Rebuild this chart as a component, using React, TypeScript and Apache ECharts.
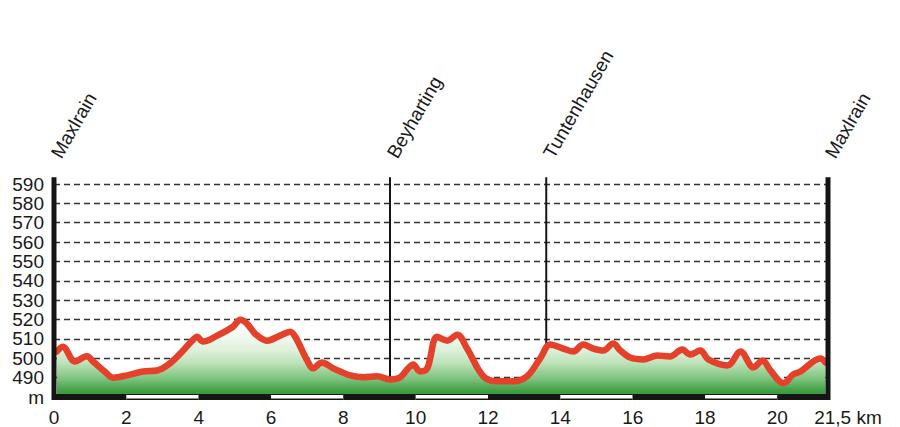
import React, { useEffect, useRef } from 'react';
import * as echarts from 'echarts';

// Profile: distance (km) and elevation (m)
const distanceKm = [
  0.08, 0.24, 0.58, 0.91, 1.09, 1.41, 1.63, 2.02, 2.46, 2.85, 3.13, 3.49, 3.82, 3.96, 4.12, 4.51,
  4.95, 5.15, 5.34, 5.56, 5.89, 6.25, 6.53, 6.67, 7.0, 7.16, 7.41, 7.72, 8.19, 8.55, 8.93, 9.29,
  9.57, 9.79, 9.93, 10.12, 10.32, 10.59, 10.87, 11.15, 11.42, 11.87, 12.25, 12.7, 13.08, 13.44,
  13.72, 14.08, 14.36, 14.63, 14.91, 15.19, 15.46, 15.66, 15.93, 16.29, 16.68, 17.03, 17.37,
  17.59, 17.87, 18.09, 18.62, 18.98, 19.34, 19.59, 19.81, 20.17, 20.44, 20.64, 21.19, 21.33,
];
const elevationM = [
  503.5, 506, 498.3, 501, 498.2, 493, 490, 491.2, 493.2, 493.7, 496.3, 502.4, 509.1, 511.1, 508.6, 511.7,
  516.3, 519.9, 517.8, 512.7, 509.1, 511.7, 513.7, 511.1, 498.9, 494.8, 497.8, 494.8, 491.2, 490.2, 490.7, 489.1,
  490.2, 494.8, 496.8, 493.2, 494.8, 511.1, 509.1, 512.2, 505, 490.7, 488.1, 488.1, 490.7, 499.9,
  507.1, 505, 503.5, 507.1, 505, 504, 507.6, 504, 500.4, 499.4, 501.4, 500.9, 504.5,
  501.9, 504, 499.4, 496.3, 503.5, 495.3, 498.9, 493.7, 487.1, 491.7, 493.2, 499.9, 497.8,
];

// Places along the route
const placeNames = ['Maxlrain', 'Beyharting', 'Tuntenhausen', 'Maxlrain'];
const placeKm = [0, 9.29, 13.61, 21.4];
const placeElevM = [480, 490, 506, 480];

// Axes
const yMin = 480;
const yMax = 590;
const yInterval = 10;
const yUnitLabel = 'm';
const xMin = 0;
const xMax = 21.4;
const xInterval = 2;
const xEndLabel = '21,5 km';
const placeLineTopM = 593.5;

// Distance scale bar segments: [startKm, endKm, isWhite]
const scaleSegments = [
  [0, 2, 0], [2, 4, 1], [4, 6, 0], [6, 8, 1], [8, 10, 0], [10, 12, 1],
  [12, 14, 0], [14, 16, 1], [16, 18, 0], [18, 20, 1], [20, 21.4, 0],
];

const FONT = '"Liberation Sans", Arial, Helvetica, sans-serif';

export default function App() {
  const ref = useRef<HTMLDivElement>(null);

  useEffect(() => {
    if (!ref.current) return;
    const chart = echarts.init(ref.current, undefined, { renderer: 'svg' });

    const profile = distanceKm.map((d, i) => [d, elevationM[i]]);
    const places = placeNames.map((_, i) => [placeKm[i], placeElevM[i], i]);
    const edges = [[xMin, yMin, 0], [xMax, yMin, 1]];

    const option: any = {
      animation: false,
      backgroundColor: '#ffffff',
      grid: { left: 54, right: 72, top: 184, bottom: 28, containLabel: false },
      xAxis: {
        type: 'value',
        min: xMin,
        max: xMax,
        interval: xInterval,
        axisLine: { show: false },
        axisTick: { show: false },
        splitLine: { show: false },
        axisLabel: {
          show: true,
          margin: 11,
          fontSize: 19,
          fontFamily: FONT,
          color: '#1a1a1a',
          showMaxLabel: true,
          showMinLabel: true,
          hideOverlap: false,
          formatter: (v: number) => (Math.abs(v - xMax) < 1e-6 ? '{k|' + xEndLabel + '}' : String(v)),
          rich: {
            k: { fontSize: 19, fontFamily: FONT, color: '#1a1a1a', padding: [0, 0, 0, 40] },
          },
        },
      },
      yAxis: {
        type: 'value',
        min: yMin,
        max: yMax,
        interval: yInterval,
        axisLine: { show: false },
        axisTick: { show: false },
        axisLabel: {
          margin: 10,
          fontSize: 19,
          fontFamily: FONT,
          color: '#1a1a1a',
          formatter: (v: number) => (v === yMin ? yUnitLabel : String(v)),
        },
        splitLine: {
          show: true,
          lineStyle: { color: '#333333', width: 1.4, type: [6, 4] },
        },
      },
      series: [
        {
          type: 'custom',
          name: 'places',
          z: 1,
          coordinateSystem: 'cartesian2d',
          clip: false,
          data: places,
          encode: { x: 0, y: 1 },
          renderItem: (params: any, api: any) => {
            const km = api.value(0);
            const elev = api.value(1);
            const idx = api.value(2);
            const top = api.coord([km, placeLineTopM]);
            const bottom = api.coord([km, elev]);
            const isEdge = idx === 0 || idx === placeNames.length - 1;
            const children: any[] = [];
            if (!isEdge) {
              children.push({
                type: 'line',
                shape: { x1: top[0], y1: top[1], x2: bottom[0], y2: bottom[1] },
                style: { stroke: '#151515', lineWidth: 2 },
              });
            }
            children.push({
              type: 'text',
              x: top[0] + 10,
              y: top[1] - 16,
              rotation: (60 * Math.PI) / 180,
              style: {
                text: placeNames[idx],
                font: '19px ' + FONT,
                fill: '#1a1a1a',
                align: 'left',
                verticalAlign: 'bottom',
              },
            });
            return { type: 'group', children };
          },
        },
        {
          type: 'line',
          name: 'profile',
          z: 2,
          data: profile,
          smooth: 0.35,
          symbol: 'none',
          clip: false,
          lineStyle: { color: '#e4402a', width: 6.5, cap: 'round', join: 'round' },
          areaStyle: {
            origin: 'start',
            opacity: 1,
            color: new echarts.graphic.LinearGradient(0, 0, 0, 1, [
              { offset: 0, color: '#ffffff' },
              { offset: 0.22, color: '#f3faf1' },
              { offset: 0.4, color: '#ddf0d9' },
              { offset: 0.56, color: '#bde2b8' },
              { offset: 0.76, color: '#7fc47f' },
              { offset: 0.92, color: '#3f9f44' },
              { offset: 1, color: '#33963a' },
            ]),
          },
        },
        {
          type: 'custom',
          name: 'frame',
          z: 3,
          coordinateSystem: 'cartesian2d',
          clip: false,
          data: edges,
          encode: { x: 0, y: 1 },
          renderItem: (params: any, api: any) => {
            const km = api.value(0);
            const top = api.coord([km, placeLineTopM]);
            const bottom = api.coord([km, yMin]);
            return {
              type: 'rect',
              shape: { x: top[0] - 2.5, y: top[1], width: 5, height: bottom[1] - top[1] + 3 },
              style: { fill: '#151515' },
            };
          },
        },
        {
          type: 'custom',
          name: 'scale',
          z: 3,
          coordinateSystem: 'cartesian2d',
          clip: false,
          data: scaleSegments,
          encode: { x: [0, 1] },
          renderItem: (params: any, api: any) => {
            const s = api.value(0);
            const e = api.value(1);
            const white = api.value(2) === 1;
            const p1 = api.coord([s, yMin]);
            const p2 = api.coord([e, yMin]);
            const children: any[] = [
              {
                type: 'rect',
                shape: { x: p1[0], y: p1[1] - 3, width: p2[0] - p1[0], height: 6 },
                style: { fill: '#151515' },
              },
            ];
            if (white) {
              children.push({
                type: 'rect',
                shape: { x: p1[0], y: p1[1] - 2, width: p2[0] - p1[0], height: 3.5 },
                style: { fill: '#ffffff' },
              });
            }
            return { type: 'group', children };
          },
        },
      ],
    };

    chart.setOption(option);
    return () => chart.dispose();
  }, []);

  return (
    <div
      ref={ref}
      style={{ position: 'fixed', left: 0, top: 0, width: 900, height: 427, background: '#fff' }}
    />
  );
}
